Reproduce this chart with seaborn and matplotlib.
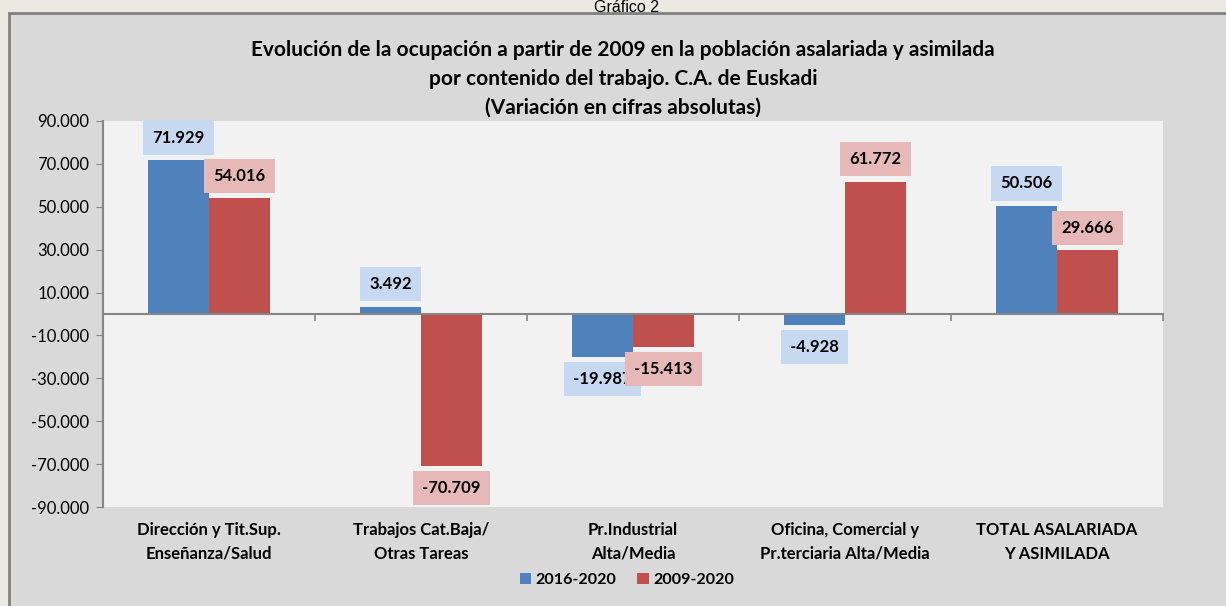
import numpy as np
import pandas as pd
import seaborn as sns
from matplotlib import pyplot as plt
from matplotlib.patches import Rectangle
from matplotlib.ticker import FuncFormatter

# Data
categories = ["Dirección y Tit.Sup.\nEnseñanza/Salud",
              "Trabajos Cat.Baja/\nOtras Tareas",
              "Pr.Industrial\nAlta/Media",
              "Oficina, Comercial y\nPr.terciaria Alta/Media",
              "TOTAL ASALARIADA\nY ASIMILADA"]
series = ["2016-2020", "2009-2020"]
vals_2016_2020 = [71929, 3492, -19987, -4928, 50506]
vals_2009_2020 = [54016, -70709, -15413, 61772, 29666]

bar_colors = ["#4F81BD", "#C0504D"]
box_colors = ["#C6D9F1", "#E6B9B8"]
grey = "#868686"

df = pd.DataFrame({
    "cat": categories * 2,
    "serie": [series[0]] * 5 + [series[1]] * 5,
    "valor": vals_2016_2020 + vals_2009_2020,
})

sns.set_style("white")
plt.rcParams["font.family"] = ["Lato", "DejaVu Sans"]
plt.rcParams["text.color"] = "black"
plt.rcParams["ytick.labelcolor"] = "black"

fig = plt.figure(figsize=(12.26, 6.06), dpi=100, facecolor="#ECE9E2")
# outer chart frame
fig.patches.append(Rectangle((9 / 1226, -0.05), 1.1, 1.05 - 13 / 606,
                             transform=fig.transFigure, facecolor="#D9D9D9",
                             edgecolor="#808080", lw=2, zorder=-10))
fig.text(627 / 1226, 1 - 11.5 / 606, "Gráfico 2", ha="center", va="baseline",
         fontsize=11.5, family="Liberation Sans")

ax = fig.add_axes([103 / 1226, 1 - 507 / 606, 1060 / 1226, 386 / 606])
ax.set_facecolor("#F2F2F2")

sns.barplot(data=df, x="cat", y="valor", hue="serie", hue_order=series,
            palette=bar_colors, width=0.575, gap=0, ax=ax, saturation=1,
            edgecolor="none", legend=True)

ax.set_xlim(-0.5, len(categories) - 0.5)
ax.set_ylim(-90000, 90000)
ax.set_yticks(np.arange(-90000, 90001, 20000))
ax.yaxis.set_major_formatter(FuncFormatter(lambda v, p: f"{v:,.0f}".replace(",", ".")))
ax.tick_params(axis="y", length=5, color=grey, labelsize=12, pad=5, left=True,
               labelcolor="black")
ax.set_xlabel("")
ax.set_ylabel("")

for s in ["top", "right"]:
    ax.spines[s].set_visible(False)
ax.spines["left"].set_color(grey)
ax.spines["left"].set_linewidth(1.5)
ax.spines["bottom"].set_position(("data", 0))
ax.spines["bottom"].set_color(grey)
ax.spines["bottom"].set_linewidth(1.5)
ax.set_xticks(np.arange(-0.5, len(categories)), labels=[""] * (len(categories) + 1))
ax.tick_params(axis="x", length=5, color=grey, width=1.2, bottom=True)

for i, c in enumerate(categories):
    ax.text(i, -0.04, c, transform=ax.get_xaxis_transform(), ha="center", va="top",
            fontsize=12, fontweight="bold", linespacing=1.55, color="black")

# value labels in coloured boxes
for k, cont in enumerate(ax.containers):
    for bar in cont:
        h = bar.get_height()
        off = 16 if h >= 0 else -16
        ax.annotate(f"{h:,.0f}".replace(",", "."),
                    (bar.get_x() + bar.get_width() / 2, h),
                    xytext=(0, off), textcoords="offset points",
                    ha="center", va="center", fontsize=12, fontweight="bold",
                    color="black",
                    bbox=dict(boxstyle="square,pad=0.55", fc=box_colors[k], ec="none"))

fig.text(623 / 1226, 1 - 40 / 606,
         "Evolución de la ocupación a partir de 2009 en la población asalariada y asimilada\n"
         "por contenido del trabajo. C.A. de Euskadi\n"
         "(Variación en cifras absolutas)",
         ha="center", va="top", fontsize=15, fontweight="bold", linespacing=1.55,
         color="black")

handles, labels = ax.get_legend_handles_labels()
ax.legend_.remove()
leg = fig.legend(handles, labels, loc="center", bbox_to_anchor=(627 / 1226, 1 - 580 / 606),
                 ncol=2, frameon=False, handlelength=0.7, handleheight=0.7,
                 handletextpad=0.3, columnspacing=1.3,
                 prop={"weight": "bold", "size": 11.6})
for t in leg.get_texts():
    t.set_color("black")

fig.savefig("out.png", dpi=100, facecolor=fig.get_facecolor())
